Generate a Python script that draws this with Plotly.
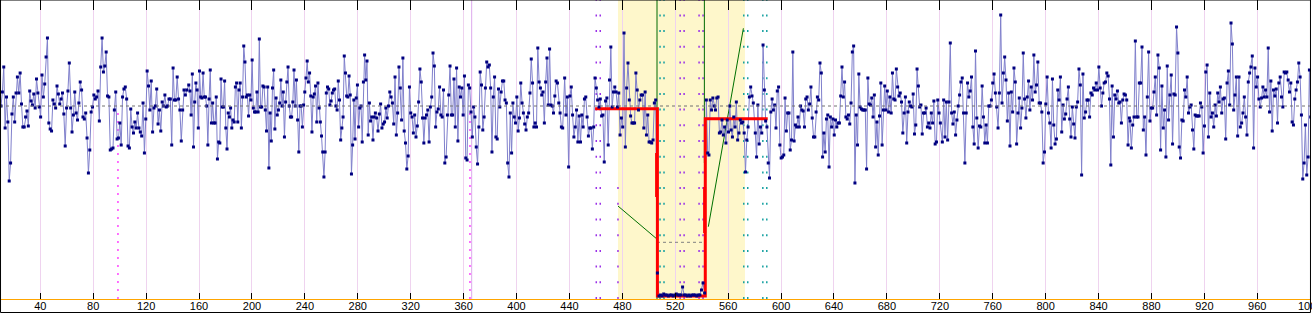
import numpy as np
import plotly.graph_objects as go

# ---------------- data ----------------
X_TICKS = list(range(40, 1001, 40))
X_RANGE = [9.53, 1000.6]
Y_RANGE = [1, 300]
MEAN_LEVEL = 194

SEG1_X = (10.3, 150.7)
SEG1_Y = [194,208,233,172,203,178,119,137,186,203,178,207,223,207,227,196,173,173,183,189,174,209,199,195,206,192,221,207,193,183,225,203,216,243,262,177,171,169,200,196,192,214,206,196,201,207,186,154,192,209,237,192,168,185,208,187,180,197,218,210,183,181,187,162,127,150,188,193,205,201,203,209,179,233,262,228,234,248,204,203,150,151,152,190,208,161,162,177,155,203,211,213,201,154,152,191,173,167,178,172,187,172,168,164,197,147,181,229,214,190,219,168,192,194,211,176,190,169,198,194,205,193,194,201,201,155,232,200,200,223,201,190,159,190,210,205,210]

SEG2_X = (152.2, 293.3)
SEG2_Y = [215,209,185,226,153,198,217,210,172,229,203,202,227,203,203,194,155,201,230,177,197,177,177,203,141,158,157,221,193,193,219,172,151,187,183,192,172,180,178,213,217,178,210,217,172,203,254,238,203,205,184,205,200,240,192,188,188,208,188,261,193,193,214,213,190,169,213,132,187,159,212,230,171,202,185,190,197,220,194,208,163,198,218,233,194,183,183,198,230,194,220,180,148,194,194,173,195,208,222,239,218,227,204,168,203,206,214,178,217,192,178,164,148,123,148,207,213,211,195,199,207,210,211,194,190,219,200,160,172,183,244,227,204,203,224,205,126,155,200,161,202,215,173,192,194,158,218,245,220,239,165,197,179,183,160,183,187]

SEG3_X = (294.3, 434.9)
SEG3_Y = [182,169,186,196,172,176,178,192,182,194,208,203,197,176,223,165,187,233,212,180,242,169,157,131,144,213,187,183,167,185,163,174,198,231,218,182,157,182,185,190,158,193,203,247,234,173,188,191,213,185,183,210,137,143,185,205,234,185,185,221,173,232,159,213,203,212,185,224,142,140,215,212,188,163,193,183,153,136,173,228,215,170,183,212,238,233,235,212,148,203,223,163,161,211,193,208,219,219,200,197,137,123,187,147,197,183,177,203,169,182,217,197,187,176,170,183,187,207,241,217,173,177,173,252,218,212,205,208,177,218,242,195,251,195,194,187,204,219,217,197,187,173,172]

SEG4_X = (436.4, 505.2)
SEG4_Y = [222,185,203,133,204,213,185,163,173,190,158,184,158,185,173,201,203,183,164,172,172,151,173,222,212,200,193,201,184,185,138,199,202,155,220,253,193,208,213,208,193,207,165,182,173,267,153,212,237,200,184,177,177,177,227,210,190,200,205,205,172,208,165,185,158,158,157,160,197,200]

SEG5_X = (506.5, 542.2)
SEG5_Y = [27,4,5,4,6,5,5,4,5,5,4,5,6,5,5,5,13,5,5,4,5,4,5,5,5,4,5,5,10,17,7]

SEG6_X = (543.5, 579.0)
SEG6_Y = [200,147,145,200,190,202,194,190,202,203,167,168,180,165,173,157,180,168,194,170,163,183,173,198,160,167,180,177,178,167,128,160,173,203,213,204,197]

SEG7_X = (580.5, 720.4)
SEG7_Y = [167,143,195,156,173,167,255,210,179,173,137,122,188,201,190,195,172,209,213,155,142,143,145,202,169,187,187,150,160,248,159,175,173,183,173,194,190,189,173,201,203,190,196,213,182,163,163,188,203,200,237,227,143,167,148,181,185,133,183,173,181,165,180,173,177,177,204,233,203,218,183,181,185,176,197,248,254,117,185,155,226,193,191,190,190,190,131,222,196,195,202,183,205,153,178,145,184,217,155,190,214,190,209,188,203,187,227,201,200,231,213,204,207,198,167,187,203,157,188,198,194,193,206,166,175,231,214,193,195,166,187,187,192,173,177,172,187,177,199,156,158,200,187,177]

SEG8_X = (721.9, 863.3)
SEG8_Y = [158,200,163,198,160,198,257,187,176,188,165,180,194,205,218,222,187,137,187,217,203,209,223,173,156,249,182,152,174,173,214,183,157,175,157,194,194,200,217,226,207,193,172,207,285,197,227,243,220,179,207,154,208,188,232,218,156,187,202,172,192,247,201,182,203,219,190,213,200,245,208,215,238,197,197,188,137,148,196,223,187,177,152,221,175,156,161,210,200,223,168,195,181,186,201,213,181,163,193,176,162,193,198,231,215,125,226,182,188,200,200,183,207,205,212,210,217,210,233,212,194,207,217,218,227,224,201,135,214,163,205,201,209,197,198,177,200,206,205,200,155,182]

SEG9_X = (863.8, 1000.4)
SEG9_Y = [179,152,175,183,259,183,183,217,217,253,170,183,145,203,248,179,192,192,208,223,185,245,232,150,214,172,190,143,234,180,205,225,156,206,205,273,247,153,142,180,179,210,203,223,187,193,195,170,151,185,184,184,184,197,193,147,174,228,235,163,207,183,187,173,195,184,207,198,213,187,201,202,161,217,229,195,277,256,190,205,223,164,223,173,177,187,203,183,165,218,227,233,244,152,232,213,223,201,193,202,213,203,210,203,252,188,219,169,210,204,211,177,217,223,203,193,228,227,228,220,208,217,178,175,201,210,218,237,223,185,121,137,175,125,143,230,183]

# step fit (red)
STEP_X = [459.4, 506.5, 506.5, 542.7, 542.7, 589.9]
STEP_Y = [191.3, 191.3, 4, 4, 181.3, 181.3]
STEP_EXTRA_X = [[505.9, 505.9], [542.2, 542.2]]
STEP_EXTRA_Y = [[147, 103], [113, 67]]

# green trend lines and level between them
TREND_L_X = [476.7, 505.5]
TREND_L_Y = [94, 61.7]
TREND_R_X = [545.0, 571.5]
TREND_R_Y = [73.3, 271.7]
GAP_LEVEL_X = [506.2, 542.0]
GAP_LEVEL_Y = [57.7, 57.7]
CHANGE_X = [506.2, 542.0]
CHANGE_TOP = [300, 300]
CHANGE_BOTTOM = [1, 137]

# window and marker lines
WINDOW_X = (476.7, 572.7)
PURPLE_DOTS_X = [460.3, 463.3, 523.7, 526.7, 538.0, 541.0]
TEAL_DOTS_X = [508.5, 511.5, 571.8, 574.8, 586.2, 589.2]
PURPLE_LOW_X = 476.7
PURPLE_LOW_TOP = 120
MAGENTA_X = [98.7, 364.8]
MAGENTA_TOP = [187, 190]
LAVENDER_X = 366.1

# ---------------- assemble ----------------
segments = [(SEG1_X, SEG1_Y), (SEG2_X, SEG2_Y), (SEG3_X, SEG3_Y), (SEG4_X, SEG4_Y),
            (SEG5_X, SEG5_Y), (SEG6_X, SEG6_Y), (SEG7_X, SEG7_Y), (SEG8_X, SEG8_Y),
            (SEG9_X, SEG9_Y)]
xs, ys = [], []
for (a, b), yv in segments:
    xs.extend(np.linspace(a, b, len(yv)).tolist())
    ys.extend(yv)

fig = go.Figure()

# window shading
fig.add_shape(type="rect", xref="x", yref="paper", x0=WINDOW_X[0], x1=WINDOW_X[1], y0=0, y1=1,
              fillcolor="#fef7cb", line_width=0, layer="below")

# dotted marker lines
for xv in PURPLE_DOTS_X:
    fig.add_trace(go.Scatter(x=[xv, xv], y=[Y_RANGE[0], Y_RANGE[1]], mode="lines",
                             line=dict(color="#9b30e8", width=1.5, dash="2px,13.7px"), hoverinfo="skip"))
for xv in TEAL_DOTS_X:
    fig.add_trace(go.Scatter(x=[xv, xv], y=[Y_RANGE[0], Y_RANGE[1]], mode="lines",
                             line=dict(color="#14a0a0", width=1.5, dash="2px,13.7px"), hoverinfo="skip"))
fig.add_trace(go.Scatter(x=[PURPLE_LOW_X, PURPLE_LOW_X], y=[Y_RANGE[0], PURPLE_LOW_TOP], mode="lines",
                         line=dict(color="#9b30e8", width=1.5, dash="2px,13.7px"), hoverinfo="skip"))
fig.add_trace(go.Scatter(x=[LAVENDER_X, LAVENDER_X], y=[Y_RANGE[0], Y_RANGE[1]], mode="lines",
                         line=dict(color="#dca8ec", width=1), hoverinfo="skip"))
for xv, top in zip(MAGENTA_X, MAGENTA_TOP):
    fig.add_trace(go.Scatter(x=[xv, xv], y=[Y_RANGE[0], top], mode="lines",
                             line=dict(color="#ff44ff", width=1.5, dash="2px,6px"), hoverinfo="skip"))

# mean level (on top axis so that axis is drawn)
fig.add_trace(go.Scatter(x=[X_RANGE[0], X_RANGE[1]], y=[MEAN_LEVEL, MEAN_LEVEL], mode="lines",
                         line=dict(color="#707070", width=1, dash="3px,3px"), xaxis="x2", hoverinfo="skip"))

# green change lines
for xv, top, bot in zip(CHANGE_X, CHANGE_TOP, CHANGE_BOTTOM):
    fig.add_trace(go.Scatter(x=[xv, xv], y=[bot, top], mode="lines",
                             line=dict(color="#006a00", width=1), hoverinfo="skip"))
fig.add_trace(go.Scatter(x=TREND_L_X, y=TREND_L_Y, mode="lines", line=dict(color="#007000", width=1)))
fig.add_trace(go.Scatter(x=TREND_R_X, y=TREND_R_Y, mode="lines", line=dict(color="#007000", width=1)))
fig.add_trace(go.Scatter(x=GAP_LEVEL_X, y=GAP_LEVEL_Y, mode="lines",
                         line=dict(color="#808080", width=1, dash="3px,3px")))

# data line
fig.add_trace(go.Scatter(x=xs, y=ys, mode="lines", line=dict(color="#8080cc", width=1)))

# red step
fig.add_trace(go.Scatter(x=STEP_X, y=STEP_Y, mode="lines", line=dict(color="#ff0000", width=3)))
for ex, ey in zip(STEP_EXTRA_X, STEP_EXTRA_Y):
    fig.add_trace(go.Scatter(x=ex, y=ey, mode="lines", line=dict(color="#ff0000", width=3)))

# data markers
fig.add_trace(go.Scatter(x=xs, y=ys, mode="markers",
                         marker=dict(symbol="square", size=3, color="#000080", line_width=0)))

# outer frame
fig.add_shape(type="rect", xref="paper", yref="paper", x0=0.0004, x1=0.9996,
              y0=-13.5 / 299, y1=1, line=dict(color="black", width=1), layer="above")

fig.update_layout(
    width=1312, height=313,
    margin=dict(l=0, r=1, t=0, b=14, autoexpand=False),
    paper_bgcolor="white", plot_bgcolor="white",
    showlegend=False,
    xaxis=dict(range=X_RANGE, tickmode="array", tickvals=X_TICKS, ticks="inside", ticklen=6,
               tickcolor="black", tickwidth=1, showgrid=True, gridcolor="#efd3ef", gridwidth=1,
               showline=True, linecolor="#ffa500", linewidth=1, zeroline=False,
               ticklabeloverflow="allow", automargin=False, ticklabelstandoff=-3,
               tickfont=dict(family="Liberation Sans", size=11, color="black")),
    xaxis2=dict(range=X_RANGE, overlaying="x", side="top", tickmode="array", tickvals=X_TICKS,
                ticks="inside", ticklen=10, tickcolor="black", tickwidth=1, showticklabels=False,
                showgrid=False, showline=False, zeroline=False, automargin=False),
    yaxis=dict(range=Y_RANGE, visible=False, automargin=False),
)

fig.write_html("out.html")
